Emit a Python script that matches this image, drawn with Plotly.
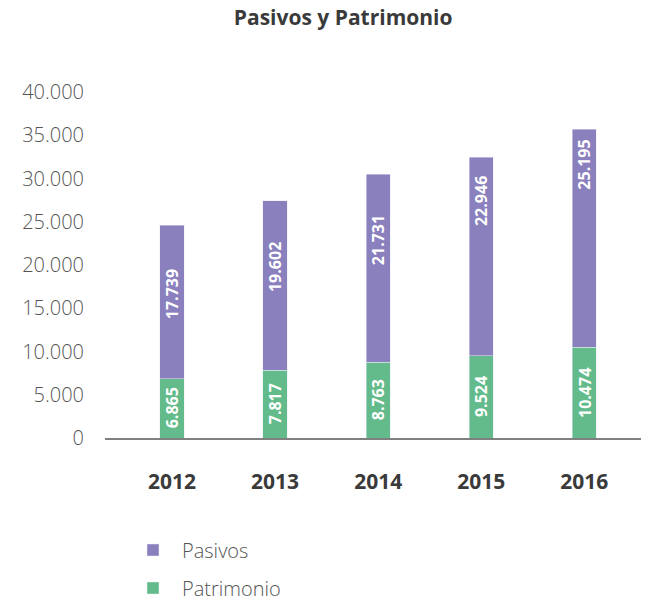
import plotly.graph_objects as go

# Balance figures per year (millions)
years = ["2012", "2013", "2014", "2015", "2016"]
patrimonio = [6865, 7817, 8763, 9524, 10474]
pasivos = [17739, 19602, 21731, 22946, 25195]

# Where each value label sits inside its segment (0 = bottom, 1 = top)
pasivos_label_frac = [0.55, 0.61, 0.65, 0.78, 0.84]
patrimonio_label_frac = [0.5, 0.5, 0.5, 0.5, 0.5]

PURPLE = "#8A80BD"
GREEN = "#63BB8B"
FONT = "Open Sans"


def fmt(v):
    return f"{v:,}".replace(",", ".")


fig = go.Figure()
fig.add_trace(go.Bar(
    x=years, y=patrimonio, name="Patrimonio", marker_color=GREEN,
    width=0.235, legend="legend2",
))
fig.add_trace(go.Bar(
    x=years, y=pasivos, name="Pasivos", marker_color=PURPLE,
    width=0.235, legend="legend",
))

annotations = []
for i in range(len(years)):
    base = patrimonio[i]
    annotations.append(dict(
        x=i, y=patrimonio_label_frac[i] * patrimonio[i], xref="x", yref="y",
        text=f"<b>{fmt(patrimonio[i])}</b>", textangle=-90, showarrow=False,
        font=dict(family=FONT, size=16, color="white"),
    ))
    annotations.append(dict(
        x=i, y=base + pasivos_label_frac[i] * pasivos[i], xref="x", yref="y",
        text=f"<b>{fmt(pasivos[i])}</b>", textangle=-90, showarrow=False,
        font=dict(family=FONT, size=16, color="white"),
    ))

legend_style = dict(
    orientation="v", x=(124 - 105) / 536, xanchor="left", yanchor="middle",
    itemwidth=48, bgcolor="rgba(0,0,0,0)",
    font=dict(family=FONT, size=20, color="#555555", weight=300),
)

fig.update_layout(
    width=645, height=603,
    margin=dict(l=105, r=4, t=92, b=165, autoexpand=False),
    barmode="stack",
    separators=",.",
    paper_bgcolor="white", plot_bgcolor="white",
    font=dict(family=FONT),
    title=dict(
        text="<b>Pasivos y Patrimonio</b>",
        x=0.532, xref="container", xanchor="center",
        y=1 - 18 / 603, yref="container", yanchor="middle",
        font=dict(family=FONT, size=21, color="#3a3a3a"),
    ),
    xaxis=dict(
        type="category", range=[-0.65, 4.55],
        showline=True, linecolor="#808080", linewidth=2,
        showgrid=False, ticks="", ticklabelstandoff=24,
        tickfont=dict(family=FONT, size=21, color="#3a3a3a", weight="bold"),
    ),
    yaxis=dict(
        range=[0, 40000], tickvals=[0, 5000, 10000, 15000, 20000, 25000, 30000, 35000, 40000],
        tickformat=",d", showgrid=False, zeroline=False, showline=False,
        ticks="", ticklabelstandoff=20,
        tickfont=dict(family=FONT, size=20, color="#555555", weight=300),
    ),
    legend=dict(legend_style, y=(438 - 550) / 346),
    legend2=dict(legend_style, y=(438 - 588) / 346),
    annotations=annotations,
    showlegend=True,
)

fig.write_html("out.html")
